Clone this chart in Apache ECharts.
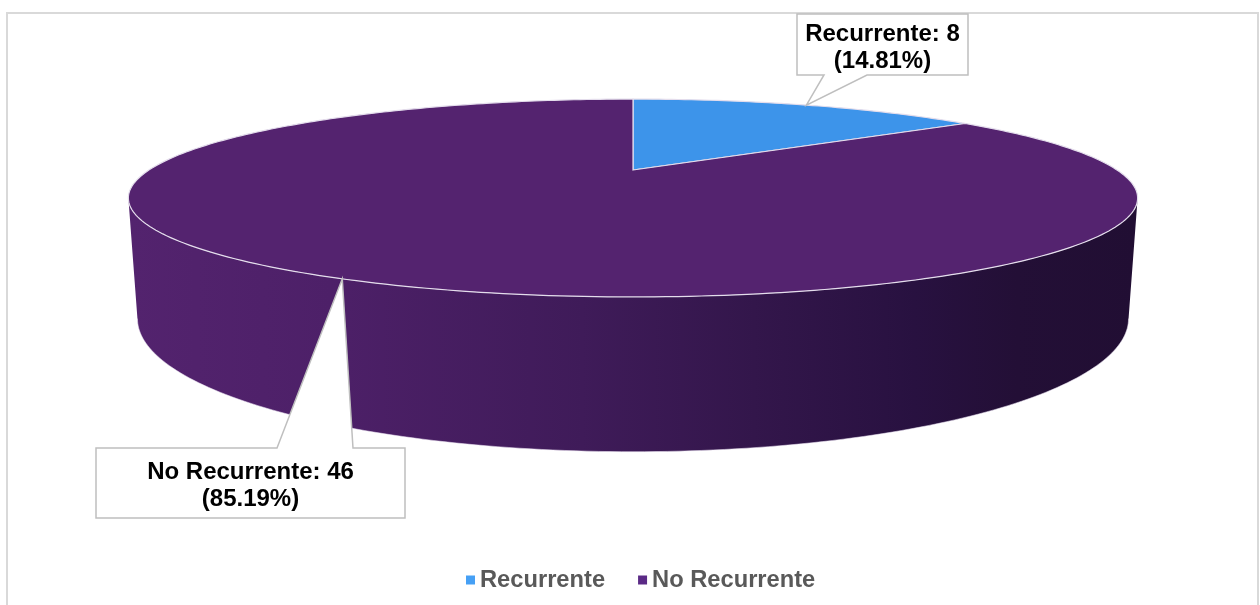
<!DOCTYPE html>
<html>
<head>
<meta charset="utf-8">
<script src="https://cdn.jsdelivr.net/npm/echarts@6/dist/echarts.min.js"></script>
<style>
  html, body { margin: 0; padding: 0; background: #fff; }
  #chart { width: 1260px; height: 605px; }
</style>
</head>
<body>
<div id="chart"></div>
<script>
// ---- data ----
const categories = ['Recurrente', 'No Recurrente'];
const values = [8, 46];
const sliceColors = ['#3d94ea', '#54236f'];
const legendColors = ['#46a0f5', '#5b2a86'];

// ---- layout / projection config (not data) ----
const G = { cx: 633, cy: 170, R: 484, A: 91, k: 0.283, D: 111, shrink: 0.982 };
const labelBoxes = [
  { x0: 797, y0: 14, x1: 968, y1: 75, side: 'bottom', b0: 824, b1: 867 },
  { x0: 96, y0: 448, x1: 405, y1: 518, side: 'top', b0: 277, b1: 353 }
];
const total = values.reduce((a, b) => a + b, 0);
const starts = [];
{ let acc = 0; values.forEach(v => { starts.push(acc / total * Math.PI * 2); acc += v; }); }
function ang(i) { return [starts[i], starts[i] + values[i] / total * Math.PI * 2]; }

function proj(theta, bottom) {
  const X = Math.sin(theta), Z = Math.cos(theta);
  const s = 1 / (1 + G.k * Z);
  let x = G.cx + G.R * X * s;
  let y = G.cy - G.A * Z * s;
  if (bottom) { x = G.cx + (x - G.cx) * G.shrink; y += G.D * s; }
  return [x, y];
}
function arc(a0, a1, bottom) {
  const pts = [];
  const n = Math.max(4, Math.ceil((a1 - a0) / (Math.PI / 180)));
  for (let j = 0; j <= n; j++) pts.push(proj(a0 + (a1 - a0) * j / n, bottom));
  return pts;
}
const w0 = Math.acos(-G.k), w1 = Math.PI * 2 - Math.acos(-G.k);

const sideGrad = {
  type: 'linear', x: 129, y: 0, x2: 1137, y2: 0, global: true,
  colorStops: [
    { offset: 0, color: '#53236e' },
    { offset: 0.2, color: '#4d2068' },
    { offset: 0.45, color: '#3f1b59' },
    { offset: 0.62, color: '#33164b' },
    { offset: 0.78, color: '#281140' },
    { offset: 0.88, color: '#230f36' },
    { offset: 1, color: '#210e33' }
  ]
};

function sideRender(params) {
  const i = params.dataIndex;
  const [a0, a1] = ang(i);
  const lo = Math.max(a0, w0), hi = Math.min(a1, w1);
  if (hi <= lo) return { type: 'group', children: [] };
  const topPts = arc(lo, hi, false);
  const botPts = arc(lo, hi, true);
  return {
    type: 'group',
    children: [
      { type: 'polygon', shape: { points: topPts.concat(botPts.slice().reverse()) },
        style: { fill: sideGrad, stroke: null } },
      { type: 'polyline', shape: { points: botPts },
        style: { stroke: 'rgba(235,228,242,0.55)', lineWidth: 1, fill: null } }
    ]
  };
}

function topRenderFor(i) {
  return function () {
    const [a0, a1] = ang(i);
    const pts = [[G.cx, G.cy]].concat(arc(a0, a1, false));
    return {
      type: 'polygon', shape: { points: pts },
      style: { fill: sliceColors[i], stroke: '#e4ddec', lineWidth: 1.2 }
    };
  };
}

function labelRender(params) {
  const i = params.dataIndex;
  const [a0, a1] = ang(i);
  const tip = proj((a0 + a1) / 2, false);
  const b = labelBoxes[i];
  let pts;
  if (b.side === 'bottom') {
    pts = [[b.x0, b.y0], [b.x1, b.y0], [b.x1, b.y1], [b.b1, b.y1], tip, [b.b0, b.y1], [b.x0, b.y1]];
  } else {
    pts = [[b.x0, b.y0], [b.b0, b.y0], tip, [b.b1, b.y0], [b.x1, b.y0], [b.x1, b.y1], [b.x0, b.y1]];
  }
  const pct = (values[i] / total * 100).toFixed(2);
  return {
    type: 'group',
    children: [
      { type: 'polygon', shape: { points: pts },
        style: { fill: '#ffffff', stroke: '#bfbfbf', lineWidth: 1.5 } },
      { type: 'text',
        style: {
          text: categories[i] + ': ' + values[i] + '\n(' + pct + '%)',
          x: (b.x0 + b.x1) / 2, y: (b.y0 + b.y1) / 2 + 3,
          align: 'center', verticalAlign: 'middle',
          fontFamily: '"Liberation Sans", Arial, sans-serif',
          fontWeight: 'bold', fontSize: 24, lineHeight: 27, fill: '#000000'
        } }
    ]
  };
}

const chart = echarts.init(document.getElementById('chart'), null, { renderer: 'canvas' });
const series = [
  { type: 'custom', name: '_sides', coordinateSystem: 'none', z: 1, silent: true,
    data: values.map((v, i) => ({ name: categories[i], value: v })), renderItem: sideRender }
];
categories.forEach((c, i) => {
  series.push({ type: 'custom', name: c, coordinateSystem: 'none', z: 2, silent: true,
    itemStyle: { color: legendColors[i] },
    data: [{ name: c, value: values[i] }], renderItem: topRenderFor(i) });
});
series.push({ type: 'custom', name: '_labels', coordinateSystem: 'none', z: 3, silent: true,
  data: values.map((v, i) => ({ name: categories[i], value: v })), renderItem: labelRender });

chart.setOption({
  animation: false,
  backgroundColor: '#ffffff',
  graphic: [
    { type: 'rect', shape: { x: 7, y: 13, width: 1251, height: 700 },
      style: { fill: null, stroke: '#d9d9d9', lineWidth: 2 }, z: 0, silent: true }
  ],
  legend: {
    left: 461, top: 563,
    icon: 'rect', itemWidth: 9, itemHeight: 9, itemGap: 33,
    selectedMode: false,
    textStyle: { color: '#595959', fontWeight: 'bold', fontSize: 23.7,
      fontFamily: '"Liberation Sans", Arial, sans-serif' },
    data: categories.map((c, i) => ({ name: c, itemStyle: { color: legendColors[i] } }))
  },
  series: series
});
</script>
</body>
</html>
